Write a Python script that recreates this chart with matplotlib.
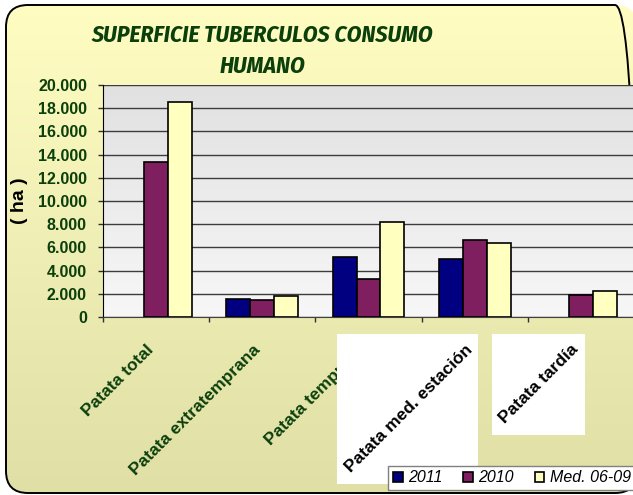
import numpy as np
import matplotlib
matplotlib.use("Agg")
import matplotlib.pyplot as plt
from matplotlib.patches import FancyBboxPatch, Rectangle
from matplotlib.colors import LinearSegmentedColormap
from matplotlib.transforms import ScaledTranslation, Bbox

categorias = ["Patata total", "Patata extratemprana", "Patata temprana",
              "Patata med. estación", "Patata tardía"]
series = ["2011", "2010", "Med. 06-09"]
v2011 = [np.nan, 1550, 5170, 5000, np.nan]
v2010 = [13400, 1500, 3300, 6650, 1900]
vmed = [18500, 1780, 8150, 6350, 2200]
colores = ["#000080", "#7f1f5f", "#ffffc0"]
yticks = np.arange(0, 20001, 2000)

verde = "#0b3f0b"
plt.rcParams["font.family"] = ["Liberation Sans", "DejaVu Sans"]

W, H = 633, 495
fig = plt.figure(figsize=(W / 100, H / 100), dpi=100)
fig.patch.set_facecolor("white")

# fondo amarillo con bordes redondeados
bg = fig.add_axes([0, 0, 1, 1])
bg.set_xlim(0, W)
bg.set_ylim(0, H)
bg.axis("off")
marco = FancyBboxPatch((6, 2), 631, 488, boxstyle="round,pad=0,rounding_size=22",
                       fc="none", ec="black", lw=1.4, zorder=2)
bg.add_patch(marco)
grad = np.linspace(0, 1, 256).reshape(-1, 1)
im = bg.imshow(grad, extent=[0, W, 0, H], origin="lower", aspect="auto",
               cmap=LinearSegmentedColormap.from_list("bg", ["#dfdfa6", "#fffdc2"]))
im.set_clip_path(marco)

# area de trazado
ax = fig.add_axes([103 / W, (H - 317) / H, 531 / W, 232 / H])
ax.imshow(grad, extent=[-0.5, 4.5, 0, 20000], origin="lower", aspect="auto", zorder=0,
          cmap=LinearSegmentedColormap.from_list("pa", ["#f7f7f7", "#e1e1e1"]))
x = np.arange(len(categorias))
w = 0.225
barras = []
for i, (vals, col) in enumerate(zip([v2011, v2010, vmed], colores)):
    b = ax.bar(x + (i - 1) * w, vals, w, color=col, edgecolor="black", lw=1.2, zorder=3)
    barras.append(b)
ax.set_xlim(-0.5, 4.5)
ax.set_ylim(0, 20000)
ax.set_yticks(yticks)
ax.set_yticklabels([f"{v:,.0f}".replace(",", ".") for v in yticks],
                   fontsize=11.5, fontweight="bold", color=verde)
ax.yaxis.grid(True, color="#3c3c3c", lw=1)
ax.set_axisbelow(True)
ax.set_xticks(np.arange(-0.5, 5, 1))
ax.set_xticklabels([])
ax.tick_params(axis="both", direction="out", length=3.6, width=1, color="#303030")
ax.tick_params(axis="y", pad=8)
for s in ["top", "right"]:
    ax.spines[s].set_visible(False)
ax.spines["left"].set_color("black")
ax.spines["bottom"].set_color("#404040")

# etiquetas de categorias
off = ScaledTranslation(-10 / 100, -25 / 100, fig.dpi_scale_trans)
etiquetas = []
for i, c in enumerate(categorias):
    t = fig.text(i, 0, c, transform=ax.get_xaxis_transform() + off, rotation=45,
                 rotation_mode="anchor", ha="right", va="top", fontsize=12.5,
                 fontweight="bold", color=verde, zorder=3)
    etiquetas.append(t)
for t in etiquetas[3:]:
    t.set_color("black")
    t.set_zorder(4)

fig.text(20 / W, 1 - 201 / H, "( ha )", rotation=90, ha="center", va="center",
         fontsize=14, fontweight="bold", color="black")

fig.text(262 / W, 1 - 51 / H, "SUPERFICIE TUBERCULOS CONSUMO\nHUMANO", ha="center",
         va="center", family=["Fira Sans Condensed", "Liberation Sans"], fontsize=17,
         fontweight="bold", style="italic", color=verde, linespacing=1.42)

leg = fig.legend([b[0] for b in barras], series, loc="center",
                 bbox_to_anchor=(512 / W, 1 - 478 / H), ncol=3, frameon=True,
                 fancybox=False, edgecolor="#808080", framealpha=1,
                 prop={"style": "italic", "size": 11.5}, handlelength=0.6,
                 handleheight=0.6, handletextpad=0.35, columnspacing=1.3,
                 borderpad=0.3)
leg.set_zorder(5)

# cajas blancas y recorte de etiquetas
fig.canvas.draw()
r = fig.canvas.get_renderer()
ext = [t.get_window_extent(r) for t in etiquetas]
inv = fig.transFigure.inverted()
for e in ext[3:]:
    (x0, y0), (x1, y1) = inv.transform([[e.x0 - 5, e.y0 - 9], [e.x1 + 3, e.y1 + 8]])
    fig.add_artist(Rectangle((x0, y0), x1 - x0, y1 - y0, transform=fig.transFigure,
                             fc="white", ec="none", zorder=3.5))
etiquetas[1].set_clip_box(Bbox([[0, 0], [ext[2].x0 - 2, H]]))
etiquetas[1].set_clip_on(True)

fig.savefig("out.png", dpi=100)
